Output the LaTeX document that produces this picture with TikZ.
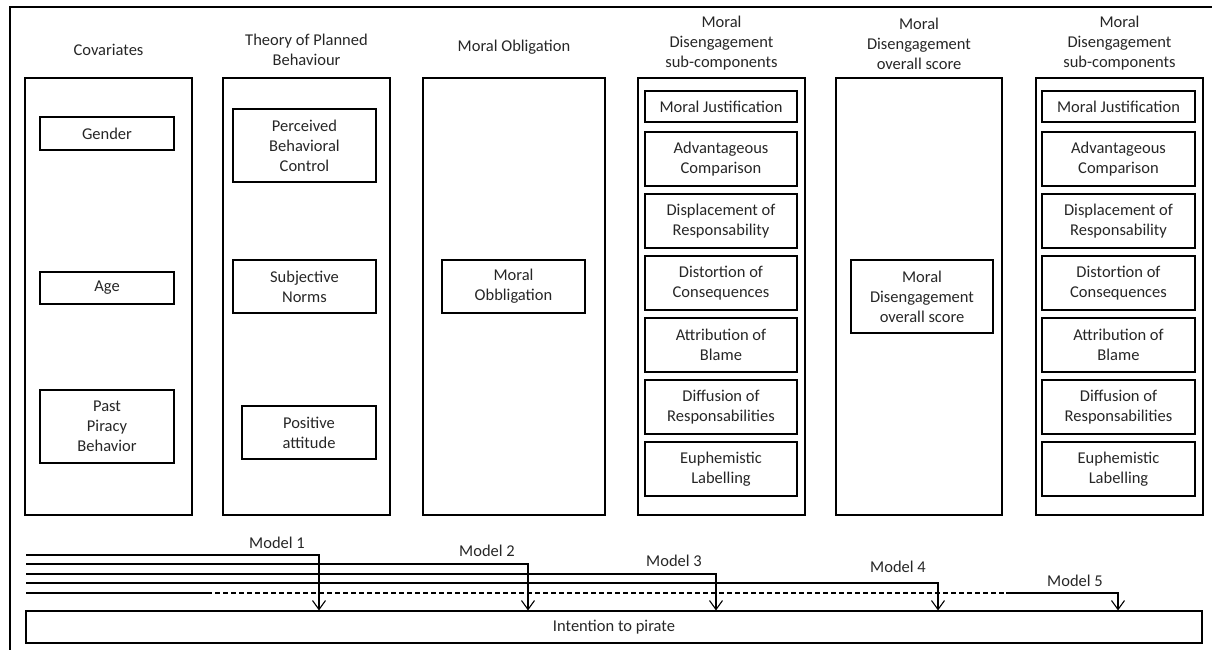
\documentclass[tikz,border=0pt]{standalone}
\usepackage{fontspec}
\setmainfont{Carlito}
\usetikzlibrary{arrows.meta}
\begin{document}
\begin{tikzpicture}[x=1pt,y=-1pt,
  txt/.style={font=\fontsize{16.5}{20}\selectfont, text=black!85, align=center, inner sep=0pt},
  colbox/.style={draw, line width=2.4pt, minimum height=437pt, inner sep=0pt},
  itembox/.style={draw, line width=1.1pt, txt},
  mline/.style={line width=1.1pt},
  marrow/.style={mline, -{Straight Barb[length=9pt,width=13pt,line width=1.1pt]}}
]
\useasboundingbox (0,0) rectangle (1212,650);
\draw[line width=2.2pt] (10,650) -- (10,7) -- (1212,7);

% column headers
\node[txt] (h1) at (108.5,50) {Covariates};
\node[txt] (h2) at (306.5,49.5) {Theory of Planned\\Behaviour};
\node[txt] (h3) at (514,47) {Moral Obligation};
\node[txt] (h4) at (721.5,43.5) {Moral\\Disengagement\\sub-components};
\node[txt] (h5) at (919,43.5) {Moral\\Disengagement\\overall score};
\node[txt] (h6) at (1119.5,43.5) {Moral\\Disengagement\\sub-components};

% column boxes
\node[colbox, minimum width=167pt] (c1) at (108.5,296.5) {};
\node[colbox, minimum width=167pt] (c2) at (306.5,296.5) {};
\node[colbox, minimum width=182pt] (c3) at (514,296.5) {};
\node[colbox, minimum width=167pt] (c4) at (721.5,296.5) {};
\node[colbox, minimum width=166pt] (c5) at (919,296.5) {};
\node[colbox, minimum width=167pt] (c6) at (1119.5,296.5) {};

% covariates
\node[itembox, minimum width=134pt, minimum height=33pt] (gender) at (107,133.5) {Gender};
\node[itembox, minimum width=134pt, minimum height=32pt] (age) at (107,288) {Age};
\node[itembox, minimum width=134pt, minimum height=73pt] (past) at (107,426.5) {Past\\Piracy\\Behavior};

% TPB
\node[itembox, minimum width=143pt, minimum height=73pt] (pbc) at (304.5,145.5) {Perceived\\Behavioral\\Control};
\node[itembox, minimum width=143pt, minimum height=53pt] (sn) at (304.5,286.5) {Subjective\\Norms};
\node[itembox, minimum width=134pt, minimum height=53pt] (pa) at (309,432.5) {Positive\\attitude};

% moral obligation
\node[itembox, minimum width=143pt, minimum height=53pt] (mo) at (513.5,286.5) {Moral\\Obbligation};

% MD sub-components (col 4)
\node[itembox, minimum width=152pt, minimum height=31pt] (aMJ) at (721,106.5) {Moral Justification};
\node[itembox, minimum width=152pt, minimum height=54pt] (aAC) at (721,159) {Advantageous\\Comparison};
\node[itembox, minimum width=152pt, minimum height=54pt] (aDR) at (721,221) {Displacement of\\Responsability};
\node[itembox, minimum width=152pt, minimum height=54pt] (aDC) at (721,283) {Distortion of\\Consequences};
\node[itembox, minimum width=152pt, minimum height=54pt] (aAB) at (721,345) {Attribution of\\Blame};
\node[itembox, minimum width=152pt, minimum height=54pt] (aDF) at (721,407) {Diffusion of\\Responsabilities};
\node[itembox, minimum width=152pt, minimum height=54pt] (aEL) at (721,469) {Euphemistic\\Labelling};

% MD overall
\node[itembox, minimum width=142pt, minimum height=73pt] (mdos) at (922,296.5) {Moral\\Disengagement\\overall score};

% MD sub-components (col 6)
\node[itembox, minimum width=153pt, minimum height=31pt] (bMJ) at (1118.5,106.5) {Moral Justification};
\node[itembox, minimum width=153pt, minimum height=54pt] (bAC) at (1118.5,159) {Advantageous\\Comparison};
\node[itembox, minimum width=153pt, minimum height=54pt] (bDR) at (1118.5,221) {Displacement of\\Responsability};
\node[itembox, minimum width=153pt, minimum height=54pt] (bDC) at (1118.5,283) {Distortion of\\Consequences};
\node[itembox, minimum width=153pt, minimum height=54pt] (bAB) at (1118.5,345) {Attribution of\\Blame};
\node[itembox, minimum width=153pt, minimum height=54pt] (bDF) at (1118.5,407) {Diffusion of\\Responsabilities};
\node[itembox, minimum width=153pt, minimum height=54pt] (bEL) at (1118.5,469) {Euphemistic\\Labelling};

% outcome
\node[itembox, minimum width=1176pt, minimum height=32pt] (intent) at (614,627) {Intention to pirate};

% model labels
\node[txt] (m1) at (277,543) {Model 1};
\node[txt] (m2) at (487,551) {Model 2};
\node[txt] (m3) at (674,561) {Model 3};
\node[txt] (m4) at (898,567) {Model 4};
\node[txt] (m5) at (1075,581) {Model 5};

% model lines
\coordinate (s1) at (26,555);
\coordinate (s2) at (26,564);
\coordinate (s3) at (26,574);
\coordinate (s4) at (26,583);
\coordinate (s5) at (26,593);
\coordinate (d5a) at (207,593);
\coordinate (d5b) at (1006,593);
\coordinate (a1) at (319,600);
\coordinate (a2) at (528,600);
\coordinate (a3) at (716,600);
\coordinate (a4) at (938,600);
\coordinate (a5) at (1118,600);

\draw[marrow] (s1) -| (intent.north -| a1);
\draw[marrow] (s2) -| (intent.north -| a2);
\draw[marrow] (s3) -| (intent.north -| a3);
\draw[marrow] (s4) -| (intent.north -| a4);
\draw[mline] (s5) -- (d5a);
\draw[mline, dash pattern=on 5pt off 3pt] (d5a) -- (d5b);
\draw[marrow] (d5b) -| (intent.north -| a5);
\end{tikzpicture}
\end{document}
